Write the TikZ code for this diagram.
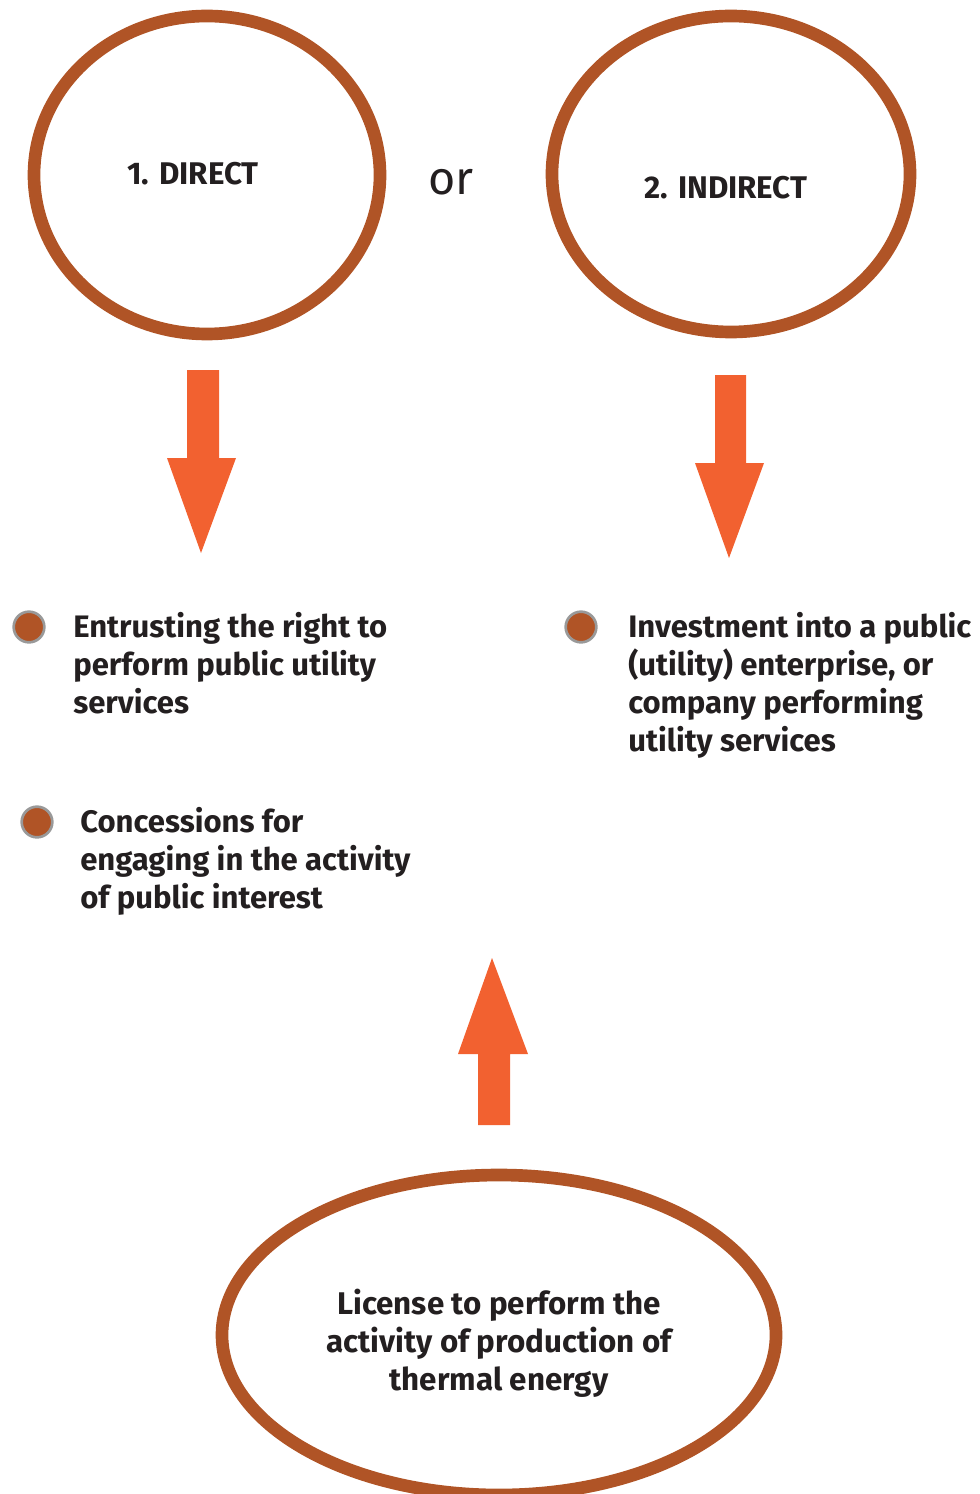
\documentclass[tikz,border=0pt]{standalone}
\usepackage{fontspec}
\setmainfont{Fira Sans}
\begin{document}
\begin{tikzpicture}[x=0.75pt,y=-0.75pt,
  ring/.style={draw=brownc,line width=9.5pt},
  bigarrow/.style={fill=orangec,draw=none},
  bullet/.style={circle,fill=brownc,draw=gray!80,line width=2pt,minimum size=23pt,inner sep=0pt},
  txt/.style={font=\fontsize{23.3pt}{28.5pt}\selectfont\bfseries,text=textc,inner sep=0pt,align=left,anchor=north west},
  ctxt/.style={font=\fontsize{23.5pt}{28.5pt}\selectfont\bfseries,text=textc,inner sep=0pt,align=center}]
\definecolor{brownc}{HTML}{B05426}
\definecolor{orangec}{HTML}{F26130}
\definecolor{textc}{HTML}{231F20}
\useasboundingbox (0,0) rectangle (979,1494);
% ellipses
\draw[ring] (207,175) ellipse [x radius=173, y radius=159];
\draw[ring] (731,174) ellipse [x radius=179, y radius=158];
\draw[ring] (499,1335) ellipse [x radius=277, y radius=160];
\node[ctxt] (d) at (193,174) {1. DIRECT};
\node[ctxt] (i) at (726,188) {2. INDIRECT};
\node[font=\fontsize{35pt}{38pt}\selectfont,text=textc,inner sep=0pt] (or) at (451,182) {or};
\node[ctxt] (lic) at (499,1343) {License to perform the\\activity of production of\\thermal energy};
% arrows
\fill[bigarrow] (187,370) -- (219,370) -- (219,458) -- (236,458) -- (201,553) -- (167,458) -- (187,458) -- cycle;
\fill[bigarrow] (715,375) -- (746,375) -- (746,463) -- (764,463) -- (729,558) -- (695,463) -- (715,463) -- cycle;
\fill[bigarrow] (478,1125) -- (510,1125) -- (510,1054) -- (528,1054) -- (492,958) -- (458,1054) -- (478,1054) -- cycle;
% bullets
\node[bullet] (b1) at (29,627) {};
\node[bullet] (b2) at (37,822) {};
\node[bullet] (b3) at (581,627) {};
\node[txt] (t1) at (73,612) {Entrusting the right to\\perform public utility\\services};
\node[txt] (t2) at (80,807) {Concessions for\\engaging in the activity\\of public interest};
\node[txt] (t3) at (628,612) {Investment into a public\\(utility) enterprise, or\\company performing\\utility services};
\end{tikzpicture}
\end{document}
